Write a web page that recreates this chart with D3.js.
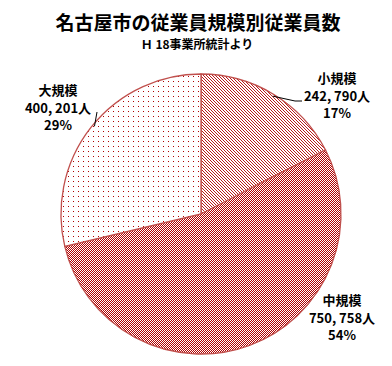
<!DOCTYPE html>
<html><head><meta charset="utf-8">
<script src="https://cdn.jsdelivr.net/npm/d3@7"></script>
<style>
body{margin:0;background:#fff;}
text{font-family:"Noto Sans CJK JP","Noto Sans",sans-serif;font-weight:bold;fill:#000;}
</style></head>
<body>
<script>
const categories = ["小規模", "中規模", "大規模"];
const values = [242790, 750758, 400201];
const valueLabels = ["242, 790人", "750, 758人", "400, 201人"];
const percentLabels = ["17%", "54%", "29%"];
const title = "名古屋市の従業員規模別従業員数";
const subtitle = "Ｈ 18事業所統計より";

const W = 392, H = 366;
const svg = d3.select("body").append("svg").attr("width", W).attr("height", H);
const defs = svg.append("defs");
const dark = "#b00000";

// diagonal lines
const p1 = defs.append("pattern").attr("id","pDiag").attr("patternUnits","userSpaceOnUse").attr("width",3).attr("height",3);
p1.append("rect").attr("width",3).attr("height",3).attr("fill","#fff");
p1.append("path").attr("d","M0,0L3,3M-1,2L1,4M2,-1L4,1").attr("stroke",dark).attr("stroke-width",0.9);
// checkerboard
const p2 = defs.append("pattern").attr("id","pCheck").attr("patternUnits","userSpaceOnUse").attr("width",2).attr("height",2);
p2.append("rect").attr("width",2).attr("height",2).attr("fill","#fff");
p2.append("rect").attr("width",1).attr("height",1).attr("fill",dark).attr("shape-rendering","crispEdges");
p2.append("rect").attr("x",1).attr("y",1).attr("width",1).attr("height",1).attr("fill",dark).attr("shape-rendering","crispEdges");
// dots
const p3 = defs.append("pattern").attr("id","pDot").attr("patternUnits","userSpaceOnUse").attr("width",5).attr("height",5);
p3.append("rect").attr("width",5).attr("height",5).attr("fill","#fff");
p3.append("rect").attr("x",2).attr("y",2).attr("width",1).attr("height",1).attr("fill",dark).attr("shape-rendering","crispEdges");
const fills = ["url(#pDiag)","url(#pCheck)","url(#pDot)"];

const cx = 201, cy = 214, r = 140;
const pie = d3.pie().sort(null).value(d => d)(values);
const arc = d3.arc().innerRadius(0).outerRadius(r);
const g = svg.append("g").attr("transform", `translate(${cx},${cy})`);
g.selectAll("path").data(pie).join("path")
  .attr("d", arc).attr("fill", (d,i) => fills[i])
  .attr("stroke", "#c0504d").attr("stroke-width", 1.3);

svg.append("text").attr("x",198).attr("y",30).attr("text-anchor","middle")
  .attr("font-size",19).text(title);
svg.append("text").attr("x",197).attr("y",49).attr("text-anchor","middle")
  .attr("font-size",12).text(subtitle);

// leader lines
const ang0 = (pie[0].startAngle + pie[0].endAngle)/2;
const ang2 = (pie[2].startAngle + pie[2].endAngle)/2;
const pt = (a, rr) => [cx + rr*Math.sin(a), cy - rr*Math.cos(a)];
const a0 = pt(ang0, r - 2);
svg.append("path").attr("d", d3.line()([a0, [295,101], [302,101]]))
  .attr("fill","none").attr("stroke","#000").attr("stroke-width",1);
const a2 = pt(ang2 + 0.02, r - 2);
svg.append("path").attr("d", d3.line()([a2, [97,112]]))
  .attr("fill","none").attr("stroke","#000").attr("stroke-width",1);

const labelPos = [[337,83],[342,305],[58,95]];
const lh = 17.5;
categories.forEach((c,i) => {
  const [x,y] = labelPos[i];
  const t = svg.append("text").attr("text-anchor","middle").attr("font-size",13);
  t.append("tspan").attr("x",x).attr("y",y).text(c);
  t.append("tspan").attr("x",x).attr("y",y+lh).text(valueLabels[i]);
  t.append("tspan").attr("x",x).attr("y",y+2*lh).text(percentLabels[i]);
});
</script>
</body></html>
